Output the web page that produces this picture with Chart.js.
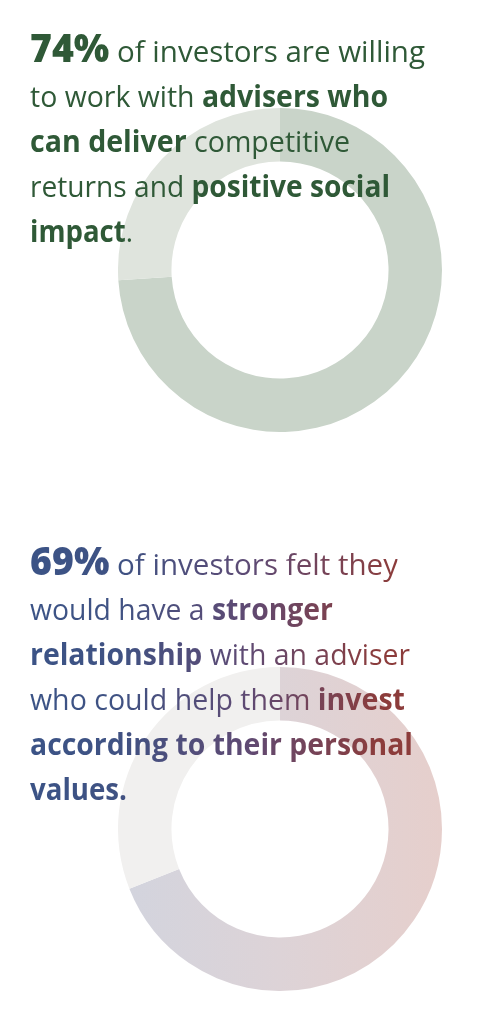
<!DOCTYPE html>
<html>
<head>
<meta charset="utf-8">
<script src="https://cdn.jsdelivr.net/npm/chart.js@4"></script>
<style>
  html, body { margin: 0; padding: 0; background: #fff; }
  body { width: 500px; height: 1029px; position: relative; overflow: hidden; }
  canvas { position: absolute; }
  .blurb {
    position: absolute; left: 30px; z-index: 2;
    font-family: "Open Sans", sans-serif; font-size: 30px; line-height: 45px; font-weight: 500;
    white-space: nowrap;
  }
  .blurb .ln { height: 45px; }
  .blurb .ln span.w { display: inline-block; transform-origin: 0 0; }
  .blurb b { font-weight: 700; }
  .blurb .big { font-size: 38px; line-height: 0; font-weight: 800; }
  #blurb1 { top: 28px; color: #2f5937; }
  #blurb2 { top: 541px; }
  #blurb2 span.w {
    color: transparent;
    background: linear-gradient(90deg, #3b5386 0px, #3f5283 90px, #5f4a73 230px, #8c3c3b 370px);
    -webkit-background-clip: text; background-clip: text;
  }
</style>
</head>
<body>
<canvas id="donut1" width="324" height="324" style="left:118px; top:108px;"></canvas>
<canvas id="donut2" width="324" height="324" style="left:118px; top:667px;"></canvas>

<div class="blurb" id="blurb1">
  <div class="ln"><span class="w"><span class="big">74%</span> of investors are willing</span></div>
  <div class="ln"><span class="w">to work with <b>advisers who</b></span></div>
  <div class="ln"><span class="w"><b>can deliver</b> competitive</span></div>
  <div class="ln"><span class="w">returns and <b>positive social</b></span></div>
  <div class="ln"><span class="w"><b>impact</b>.</span></div>
</div>

<div class="blurb" id="blurb2">
  <div class="ln"><span class="w"><span class="big">69%</span> of investors felt they</span></div>
  <div class="ln"><span class="w">would have a <b>stronger</b></span></div>
  <div class="ln"><span class="w"><b>relationship</b> with an adviser</span></div>
  <div class="ln"><span class="w">who could help them <b>invest</b></span></div>
  <div class="ln"><span class="w"><b>according to their personal</b></span></div>
  <div class="ln"><span class="w"><b>values.</b></span></div>
</div>

<script>
const answerLabels = ["Yes", "Other"];
const willingValues = [74, 26];
const strongerValues = [69, 31];

function makeDonut(id, values, colors) {
    const ctx = document.getElementById(id).getContext("2d");
    return new Chart(ctx, {
        type: 'doughnut',
        data: {
            labels: answerLabels,
            datasets: [{
                data: values,
                // colours can be plain strings or functions that build a gradient
                backgroundColor: (c) => {
                    const col = colors[c.dataIndex];
                    return typeof col === 'function' ? col(c) : col;
                },
                borderWidth: 0
            }]
        },
        options: {
            responsive: false,
            animation: false,
            cutout: '67%',
            layout: { padding: 0 },
            plugins: {
                legend: { display: false },
                tooltip: { enabled: false }
            }
        }
    });
}

// second donut fades from blue-grey on the left to rose on the right
function roseGradient(context) {
    const chart = context.chart;
    const area = chart.chartArea;
    if (!area) return '#dcd2d6';
    const g = chart.ctx.createLinearGradient(area.left, 0, area.right, 0);
    g.addColorStop(0, '#d2d4de');
    g.addColorStop(0.5, '#ddd3d7');
    g.addColorStop(1, '#e6cfcc');
    return g;
}

makeDonut("donut1", willingValues, ['#c9d4c9', '#dfe4dd']);
makeDonut("donut2", strongerValues, [roseGradient, '#f1f0ef']);

// squeeze each line so it ends where it does in the picture
function fitLines(id, rightEdges) {
    const lines = document.querySelectorAll(`#${id} .w`);
    lines.forEach((el, i) => {
        const w = el.getBoundingClientRect().width;
        el.style.transform = `scaleX(${(rightEdges[i] - 30) / w})`;
    });
}
fitLines("blurb1", [425, 388, 350, 390, 133]);
fitLines("blurb2", [398, 333, 410, 405, 413, 127]);
</script>
</body>
</html>
